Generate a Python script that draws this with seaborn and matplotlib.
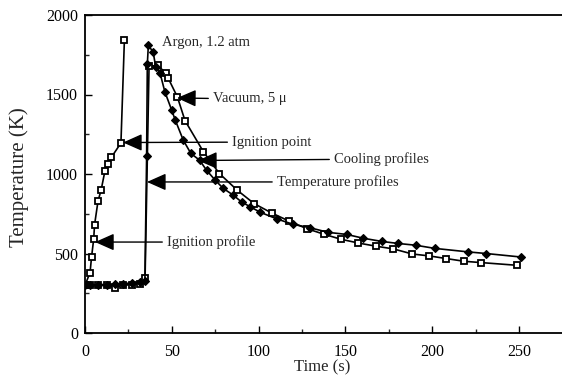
import matplotlib
matplotlib.use("Agg")
import matplotlib.pyplot as plt
import seaborn as sns
import numpy as np
import pandas as pd

# ---- data ----
ign_t = [0, 2.9, 3.8, 5.0, 5.5, 7.5, 9.3, 11.5, 13.0, 15.2, 20.7, 22.7]
ign_T = [300, 380, 480, 590, 680, 830, 900, 1020, 1060, 1105, 1195, 1845]

argon_t = [0, 3, 7.5, 12.7, 17, 22, 27, 31.7, 34.5, 35.5, 35.9, 36.5, 39.3, 40.7,
           43.2, 46, 50, 52, 56.6, 61, 66, 70, 75, 79.7, 85.4, 90.2, 95, 100.8,
           110.4, 120, 129.6, 140, 150.7, 160.3, 170.9, 180.5, 190.5, 201.6,
           220.8, 231, 251]
argon_T = [300, 300, 305, 305, 310, 310, 315, 320, 325, 1115, 1690, 1810, 1765, 1675,
           1636, 1517, 1400, 1339, 1213, 1129, 1087, 1024, 961, 909, 867, 824, 795, 760,
           718, 683, 662, 633, 620, 596, 576, 563, 552, 532,
           510, 500, 478]

vac_t = [0, 3, 7.5, 12.7, 17, 22, 27, 31.7, 34.6, 36.9, 41.8, 46.4, 48, 53.2, 57.6,
         68.2, 77.4, 87.7, 97.4, 107.5, 117.7, 127.6, 137.7, 147.3, 157.4, 167.6,
         177.6, 188.5, 198.2, 208.2, 218.4, 228, 248.6]
vac_T = [300, 300, 300, 300, 285, 300, 305, 310, 345, 1678, 1683, 1637, 1601, 1485, 1336,
         1140, 1003, 898, 814, 755, 703, 657, 621, 590, 566, 546,
         529, 497, 485, 468, 451, 443, 426]

x_ticks = [0, 50, 100, 150, 200, 250]
y_ticks = [0, 500, 1000, 1500, 2000]

# annotations: text, arrow tip (t, T), text left (t, T)
notes = [
    ("Vacuum, 5 \u03bc", (53, 1478), (73.7, 1472)),
    ("Ignition point", (21.9, 1198), (84.7, 1201)),
    ("Cooling profiles", (65.1, 1085), (143.4, 1094)),
    ("Temperature profiles", (35.7, 950), (110.5, 950)),
    ("Ignition profile", (5.8, 572), (47.2, 572)),
]

# ---- style ----
sns.set_theme(style="ticks")
plt.rcParams['font.family'] = ['Liberation Serif', 'DejaVu Serif']

W, H = 562, 378
fig = plt.figure(figsize=(W / 100, H / 100), dpi=100)
ax = fig.add_axes([85 / W, (H - 333) / H, (W - 85) / W, (333 - 15) / H])

lw = 1.2
ign = pd.DataFrame({"t": ign_t, "T": ign_T})
arg = pd.DataFrame({"t": argon_t, "T": argon_T})
vac = pd.DataFrame({"t": vac_t, "T": vac_T})

sq = dict(marker="s", markersize=5, markerfacecolor="white",
          markeredgecolor="black", markeredgewidth=1.3)
sns.lineplot(data=vac, x="t", y="T", sort=False, estimator=None, ax=ax, color="black",
             lw=lw, **sq)
sns.lineplot(data=ign, x="t", y="T", sort=False, estimator=None, ax=ax, color="black",
             lw=lw, **sq)
sns.lineplot(data=arg, x="t", y="T", sort=False, estimator=None, ax=ax, color="black",
             lw=lw, marker="D", markersize=4.5, markerfacecolor="black",
             markeredgecolor="black", markeredgewidth=0.8)

ax.set_xlim(0, (W - 85) / 1.736)
ax.set_ylim(0, 2000)
ax.set_xticks(x_ticks)
ax.set_yticks(y_ticks)
ax.set_xticks(np.arange(25, 275, 50), minor=True)
ax.set_yticks(np.arange(250, 2000, 500), minor=True)
ax.tick_params(axis="both", which="major", direction="in", length=5, width=1,
               labelsize=11.5, colors="black", pad=5)
ax.tick_params(axis="both", which="minor", direction="in", length=3, width=1)
ax.tick_params(axis="x", which="major", pad=8)
for s in ["left", "bottom", "top"]:
    ax.spines[s].set_linewidth(1.3)
    ax.spines[s].set_color("black")
ax.spines["right"].set_visible(False)

ax.set_xlabel("Time (s)", fontsize=12)
ax.set_ylabel("Temperature (K)", fontsize=15)
ax.xaxis.set_label_coords(0.497, -0.082)
ax.yaxis.set_label_coords(-0.118, 0.49)

ax.text(44.4, 1830, "Argon, 1.2 atm", fontsize=10.5, ha="left", va="center")
for txt, tip, pos in notes:
    ax.annotate(txt, xy=tip, xytext=pos, fontsize=10.5, ha="left", va="center",
                arrowprops=dict(arrowstyle="-|>,head_length=0.9,head_width=0.4",
                                color="black", lw=1.0, mutation_scale=13,
                                shrinkA=1, shrinkB=0))

fig.savefig("out.png", dpi=100)
